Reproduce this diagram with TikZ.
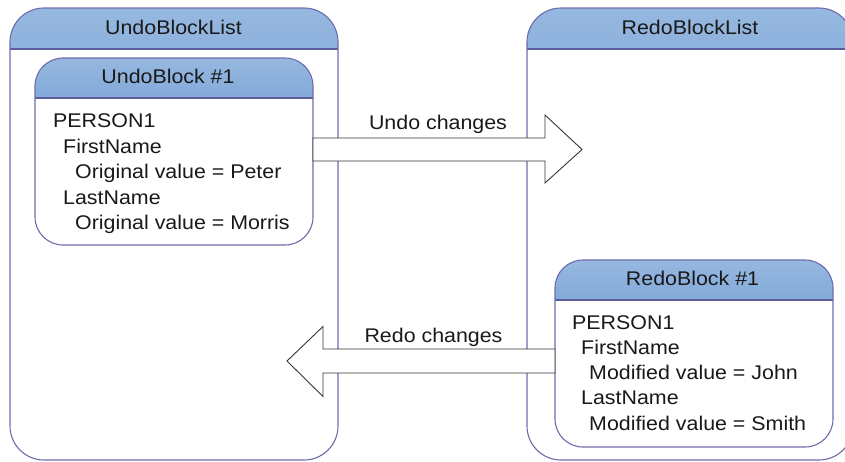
\documentclass[tikz,border=0pt]{standalone}
\usepackage{fontspec}
\setmainfont{Liberation Sans}[FakeStretch=1.08]
\usetikzlibrary{calc}
\definecolor{boxline}{RGB}{108,108,172}
\definecolor{hdtop}{RGB}{150,184,224}
\definecolor{hdmid}{RGB}{98,148,206}
\definecolor{hdbot}{RGB}{62,116,186}
\definecolor{hdline}{RGB}{92,92,152}
\definecolor{arrline}{RGB}{55,55,55}
\definecolor{txt}{RGB}{25,25,25}
\begin{document}
\begin{tikzpicture}[x=1pt,y=-1pt,
  panel/.style={draw=boxline, line width=1.1pt, fill=white, rounded corners=#1,
    inner sep=0pt, outer sep=0pt},
  hdr/.style={path picture={
    \shade[sharp corners, top color=hdtop, middle color=hdmid, bottom color=hdbot]
      (path picture bounding box.north west) rectangle ([yshift=-#1]path picture bounding box.north east);
    \draw[sharp corners, hdline, line width=1.2pt]
      ([yshift=-#1]path picture bounding box.north west) -- ([yshift=-#1]path picture bounding box.north east);}},
  ttl/.style={anchor=base, inner sep=0pt, text=txt, font=\fontsize{19.8}{23}\selectfont},
  ln/.style={anchor=base west, inner sep=0pt, text=txt, font=\fontsize{19.8}{23}\selectfont},
  bigarrow/.style={draw=arrline, line width=0.9pt, fill=white, line join=miter}
]
\clip (0,0) rectangle (845,461);

% outer lists
\node[panel=34pt, hdr=41pt, minimum width=328pt, minimum height=452pt] (undolist) at (174,234) {};
\node[panel=34pt, hdr=41pt, minimum width=326pt, minimum height=452pt] (redolist) at (690,234) {};

% inner blocks
\node[panel=28pt, hdr=40pt, minimum width=278pt, minimum height=187pt] (undoblock) at (174,151.5) {};
\node[panel=28pt, hdr=40pt, minimum width=278pt, minimum height=187pt] (redoblock) at (694,353.5) {};

% titles
\node[ttl] (tul) at (173.5,34) {UndoBlockList};
\node[ttl] (trl) at (690,34) {RedoBlockList};
\node[ttl] (tub) at (168,83.5) {UndoBlock \#1};
\node[ttl] (trb) at (692.5,285.5) {RedoBlock \#1};

% undo block content
\node[ln] (u1) at (53,127) {PERSON1};
\node[ln] (u2) at (63,153) {FirstName};
\node[ln] (u3) at (75,178) {Original value = Peter};
\node[ln] (u4) at (63,204) {LastName};
\node[ln] (u5) at (75,229) {Original value = Morris};

% redo block content
\node[ln] (r1) at (572,329) {PERSON1};
\node[ln] (r2) at (581,354) {FirstName};
\node[ln] (r3) at (589,379) {Modified value = John};
\node[ln] (r4) at (581,404) {LastName};
\node[ln] (r5) at (589,430) {Modified value = Smith};

% undo arrow
\coordinate (utip) at (582,149.5);
\draw[bigarrow] ($(undoblock.east |- utip)+(0,-11.5)$) -- ($(utip)+(-37,-11.5)$)
  -- ($(utip)+(-37,-34.5)$) -- (utip) -- ($(utip)+(-37,33.5)$)
  -- ($(utip)+(-37,11.5)$) -- ($(undoblock.east |- utip)+(0,11.5)$) -- cycle;
\node[ttl] (lu) at (438,129) {Undo changes};

% redo arrow
\coordinate (rtip) at (287,361);
\draw[bigarrow] ($(redoblock.west |- rtip)+(0,-12)$) -- ($(rtip)+(36,-12)$)
  -- ($(rtip)+(36,-34.5)$) -- (rtip) -- ($(rtip)+(36,35.5)$)
  -- ($(rtip)+(36,12)$) -- ($(redoblock.west |- rtip)+(0,12)$) -- cycle;
\node[ttl] (lr) at (433.5,342) {Redo changes};
\end{tikzpicture}
\end{document}
